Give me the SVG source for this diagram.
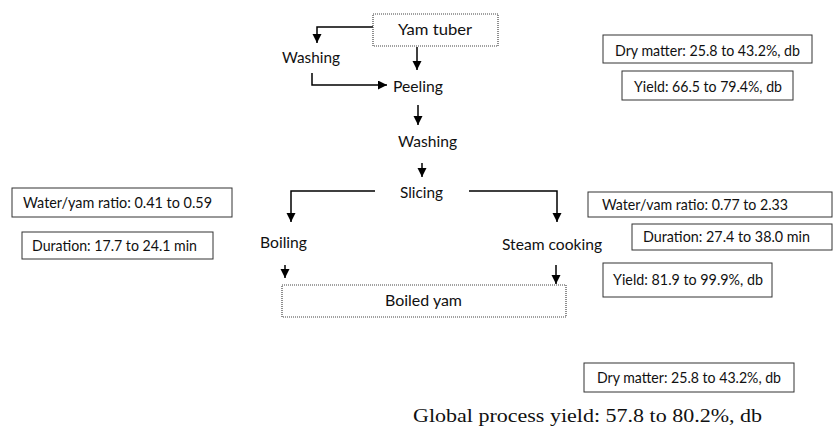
<svg xmlns="http://www.w3.org/2000/svg" width="838" height="433" viewBox="0 0 838 433">
<style>
.t{font-family:Lato,"Liberation Sans",sans-serif;font-size:16px;fill:#111}
.g{font-family:"Liberation Serif","Times New Roman",serif;font-size:19px;fill:#111}
.box{fill:#fff;stroke:#333;stroke-width:1}
.dot{fill:#fff;stroke:#444;stroke-width:1.2;stroke-dasharray:1 1}
.c{fill:none;stroke:#000;stroke-width:1.5;marker-end:url(#ah)}
</style>
<defs>
<marker id="ah" markerUnits="userSpaceOnUse" markerWidth="10" markerHeight="10" refX="9" refY="4.5" orient="auto">
<path d="M0,0 L9,4.5 L0,9 z" fill="#000"/>
</marker>
</defs>
<rect width="838" height="433" fill="#fff"/>
<g id="connectors">
<path class="c" d="M373,27 H317 V43"/>
<path class="c" d="M312,73 V85 H387"/>
<path class="c" d="M417,47 V70"/>
<path class="c" d="M418,105 V125"/>
<path class="c" d="M422,163 V177"/>
<path class="c" d="M375,191 H291 V222"/>
<path class="c" d="M469,191 H557 V222"/>
<path class="c" d="M285,265 V278"/>
<path class="c" d="M556,265 V284"/>
</g>
<g id="yam-tuber"><rect class="dot" x="373" y="14" width="125" height="32"/><text class="t" x="398" y="35" textLength="74" lengthAdjust="spacingAndGlyphs">Yam tuber</text></g>
<g id="washing1"><text class="t" x="282" y="63" textLength="58" lengthAdjust="spacingAndGlyphs">Washing</text></g>
<g id="peeling"><text class="t" x="393" y="92" textLength="50" lengthAdjust="spacingAndGlyphs">Peeling</text></g>
<g id="washing2"><text class="t" x="398" y="147" textLength="59" lengthAdjust="spacingAndGlyphs">Washing</text></g>
<g id="slicing"><text class="t" x="400" y="198" textLength="43" lengthAdjust="spacingAndGlyphs">Slicing</text></g>
<g id="boiling"><text class="t" x="260" y="248" textLength="47" lengthAdjust="spacingAndGlyphs">Boiling</text></g>
<g id="steam-cooking"><text class="t" x="502" y="250" textLength="100" lengthAdjust="spacingAndGlyphs">Steam cooking</text></g>
<g id="boiled-yam"><rect class="dot" x="282" y="285" width="284" height="32"/><text class="t" x="385" y="306" textLength="77" lengthAdjust="spacingAndGlyphs">Boiled yam</text></g>
<g id="dry-matter-top"><rect class="box" x="603" y="35" width="209" height="28"/><text class="t" x="615" y="56" textLength="185" lengthAdjust="spacingAndGlyphs">Dry matter: 25.8 to 43.2%, db</text></g>
<g id="yield-top"><rect class="box" x="622" y="71" width="171" height="29"/><text class="t" x="634" y="92" textLength="148" lengthAdjust="spacingAndGlyphs">Yield: 66.5 to 79.4%, db</text></g>
<g id="water-left"><rect class="box" x="12" y="188" width="220" height="29"/><text class="t" x="23" y="208" textLength="189" lengthAdjust="spacingAndGlyphs">Water/yam ratio: 0.41 to 0.59</text></g>
<g id="duration-left"><rect class="box" x="22" y="232" width="191" height="27"/><text class="t" x="32" y="251" textLength="165" lengthAdjust="spacingAndGlyphs">Duration: 17.7 to 24.1 min</text></g>
<g id="water-right"><rect class="box" x="588" y="192" width="244" height="25"/><text class="t" x="602" y="210" textLength="186" lengthAdjust="spacingAndGlyphs">Water/vam ratio: 0.77 to 2.33</text></g>
<g id="duration-right"><rect class="box" x="632" y="224" width="200" height="26"/><text class="t" x="643" y="242" textLength="167" lengthAdjust="spacingAndGlyphs">Duration:  27.4 to 38.0 min</text></g>
<g id="yield-right"><rect class="box" x="603" y="263" width="169" height="34"/><text class="t" x="613" y="285" textLength="150" lengthAdjust="spacingAndGlyphs">Yield: 81.9 to 99.9%, db</text></g>
<g id="dry-matter-bottom"><rect class="box" x="584" y="363" width="210" height="29"/><text class="t" x="597" y="383" textLength="184" lengthAdjust="spacingAndGlyphs">Dry matter: 25.8 to 43.2%, db</text></g>
<g id="global-yield"><text class="g" x="413" y="422" textLength="349" lengthAdjust="spacingAndGlyphs">Global process yield: 57.8 to 80.2%, db</text></g>
</svg>
